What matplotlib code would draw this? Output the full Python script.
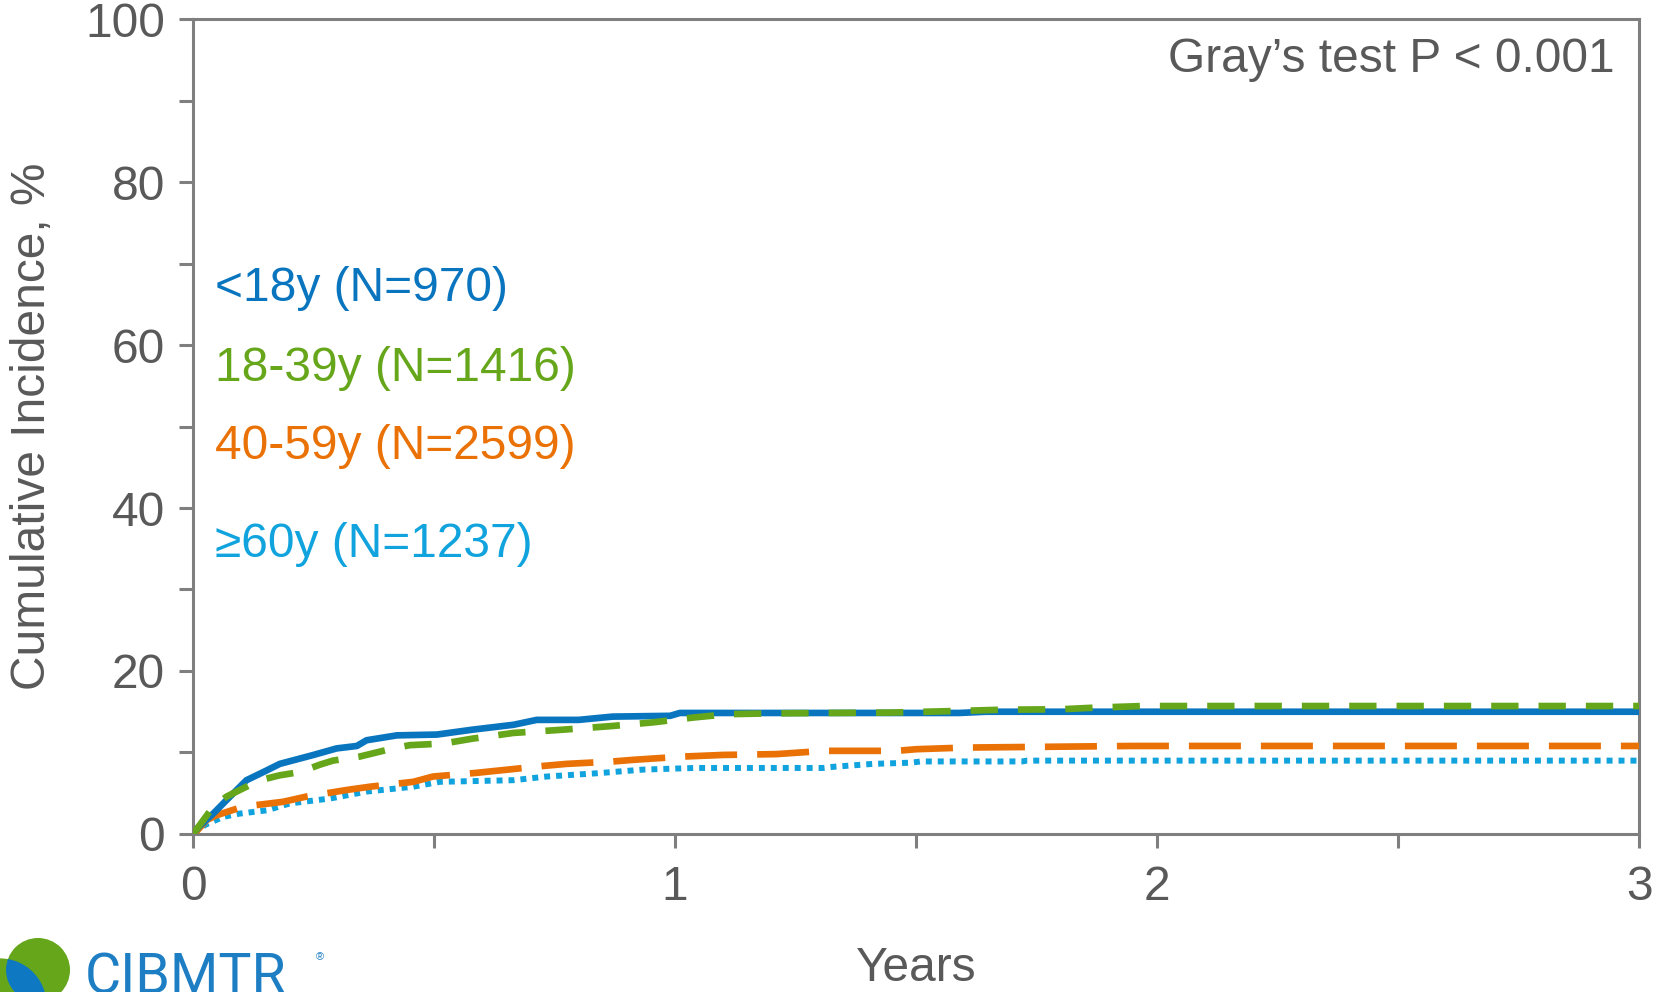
import matplotlib.pyplot as plt
from matplotlib.patches import Circle
from matplotlib.ticker import MultipleLocator

plt.rcParams['font.family'] = ['Liberation Sans', 'DejaVu Sans']

# cumulative incidence curves (years, %)
t_lt18 = [0, 0.014, 0.042, 0.077, 0.111, 0.146, 0.18, 0.25, 0.298, 0.34, 0.36, 0.423,
          0.506, 0.58, 0.665, 0.713, 0.80, 0.87, 0.99, 1.01, 1.59, 1.645, 3.0]
ci_lt18 = [0, 1.0, 2.5, 4.6, 6.6, 7.6, 8.6, 9.7, 10.5, 10.8, 11.5, 12.1,
           12.2, 12.8, 13.4, 14.0, 14.0, 14.4, 14.5, 14.85, 14.85, 15.0, 15.0]

t_18_39 = [0, 0.014, 0.042, 0.07, 0.104, 0.139, 0.18, 0.222, 0.263, 0.29, 0.346, 0.415,
           0.45, 0.52, 0.58, 0.665, 0.768, 0.87, 0.955, 1.04, 1.11, 1.2, 1.45, 1.59,
           1.68, 1.8, 1.87, 1.97, 3.0]
ci_18_39 = [0, 1.1, 3.35, 4.6, 5.6, 6.6, 7.2, 7.6, 8.5, 9.0, 9.5, 10.5,
            10.9, 11.1, 11.7, 12.4, 12.8, 13.25, 13.7, 14.3, 14.7, 14.8, 14.9, 15.1,
            15.25, 15.3, 15.5, 15.7, 15.7]

t_40_59 = [0, 0.007, 0.028, 0.049, 0.07, 0.104, 0.187, 0.236, 0.319, 0.367, 0.457, 0.498,
           0.588, 0.637, 0.727, 0.775, 0.872, 0.914, 1.017, 1.1, 1.21, 1.31, 1.46, 1.5,
           1.6, 1.95, 3.0]
ci_40_59 = [0, 0.3, 1.7, 2.3, 2.7, 3.35, 3.95, 4.6, 5.4, 5.8, 6.4, 7.05,
            7.5, 7.8, 8.35, 8.6, 8.9, 9.1, 9.5, 9.7, 9.8, 10.2, 10.2, 10.4,
            10.6, 10.8, 10.8]

t_ge60 = [0, 0.028, 0.063, 0.097, 0.153, 0.201, 0.284, 0.36, 0.457, 0.512, 0.665, 0.734,
          0.838, 0.934, 1.04, 1.307, 1.33, 1.41, 1.49, 1.51, 1.72, 1.73, 3.0]
ci_ge60 = [0.2, 1.2, 2.1, 2.5, 2.9, 3.75, 4.35, 5.2, 5.8, 6.4, 6.6, 7.05,
           7.45, 7.9, 8.1, 8.1, 8.25, 8.6, 8.75, 8.9, 8.9, 9.0, 9.0]

labels = ['<18y (N=970)', '18-39y (N=1416)', '40-59y (N=2599)', '\u226560y (N=1237)']
label_y = [66.9, 57.1, 47.5, 35.5]

c_blue = '#0a75bf'
c_green = '#66a61a'
c_orange = '#ea7105'
c_sky = '#11a3dd'
grey = '#7f7f7f'
text_c = '#595959'
fs = 34.5

fig = plt.figure(figsize=(16.61, 9.92), dpi=100)
ax = fig.add_axes([0.1162, 0.1593, 0.8706, 0.8215])

ax.plot(t_ge60, ci_ge60, color=c_sky, lw=4.3, dashes=(1.0, 1.0),
        dash_capstyle='butt', zorder=3)
ax.plot(t_40_59, ci_40_59, color=c_orange, lw=4.8, dashes=(7.8, 3.0),
        dash_capstyle='butt', zorder=4)
ax.plot(t_lt18, ci_lt18, color=c_blue, lw=4.8, solid_capstyle='butt', zorder=5)
ax.plot(t_18_39, ci_18_39, color=c_green, lw=4.8, dashes=(4.1, 3.0),
        dash_capstyle='butt', zorder=6)

for lab, y, c in zip(labels, label_y, [c_blue, c_green, c_orange, c_sky]):
    ax.text(0.046, y, lab, color=c, fontsize=fs, va='center', ha='left')

ax.text(2.95, 95.0, 'Gray\u2019s test P < 0.001', color=text_c, fontsize=fs,
        va='center', ha='right')

ax.set_xlim(0, 3)
ax.set_ylim(0, 100)
ax.xaxis.set_major_locator(MultipleLocator(1))
ax.xaxis.set_minor_locator(MultipleLocator(0.5))
ax.yaxis.set_major_locator(MultipleLocator(20))
ax.yaxis.set_minor_locator(MultipleLocator(10))

for s in ax.spines.values():
    s.set_color(grey)
    s.set_linewidth(2.2)
ax.tick_params(which='both', direction='out', length=10, width=2.2, color=grey)
ax.tick_params(axis='y', which='major', labelsize=fs, labelcolor=text_c, pad=10)
ax.tick_params(axis='x', which='major', labelsize=fs, labelcolor=text_c, pad=12)

ax.set_xlabel('Years', fontsize=fs, color=text_c, va='center')
ax.xaxis.set_label_coords(0.5, -0.1656)
ax.set_ylabel('Cumulative Incidence, %', fontsize=fs, color=text_c, va='center')
ax.yaxis.set_label_coords(-0.1113, 0.5)

# logo in pixel coordinates, cropped by the bottom edge of the figure
lg = fig.add_axes([0, 0, 1, 1], zorder=10)
lg.set_xlim(0, 1661)
lg.set_ylim(992, 0)
lg.axis('off')
ca = Circle((38, 970), 32, color=c_green, lw=0)
cb = Circle((0, 1005), 46.6, color=c_green, lw=0)
lg.add_patch(cb)
lg.add_patch(ca)
overlap = Circle((0, 1005), 46.6, color='#0f78c2', lw=0)
lg.add_patch(overlap)
overlap.set_clip_path(ca)

lg.text(85, 952, 'CIBMTR', color='#1d7ec4', fontsize=40, family='Roboto',
        va='top', ha='left')
lg.text(316, 952, '\u00ae', color='#1d7ec4', fontsize=8, va='top', ha='left')

fig.savefig('out.png', dpi=100)
